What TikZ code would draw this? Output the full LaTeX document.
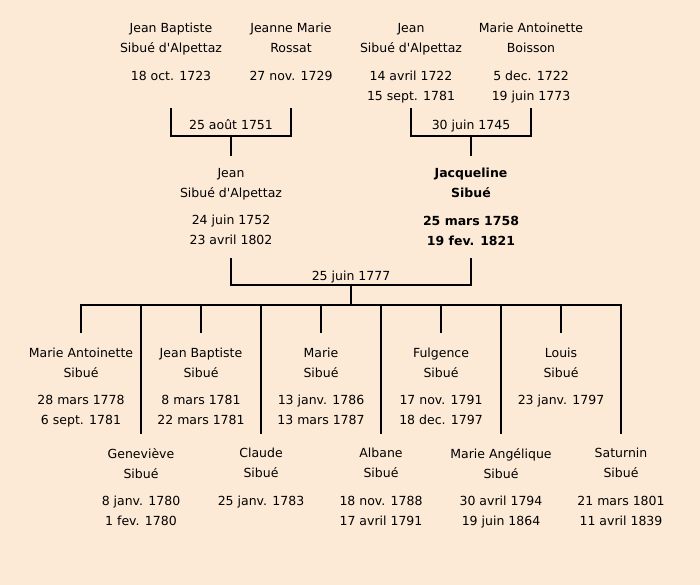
\documentclass[tikz,border=0pt]{standalone}
\usepackage{fontspec}
\setmainfont{DejaVu Sans}
\definecolor{peach}{RGB}{252,234,214}
\newcommand{\ap}{\textquotesingle}
\begin{document}
\begin{tikzpicture}[x=1pt,y=-1pt,font=\fontsize{12.5}{20}\selectfont, line join=miter,
	person/.style={align=center,inner sep=0pt,anchor=north},
	wed/.style={inner sep=0pt,anchor=base},
	link/.style={line width=2.4pt}]
	\fill[peach] (0,0) rectangle (700,585);
	\useasboundingbox (0,0) rectangle (700,585);
	% grands-parents
	\node[person] (jbs) at (171,23.3) {Jean Baptiste\\Sibué d\ap Alpettaz\\[7.5pt]18 oct. 1723};
	\node[person] (jmr) at (291,23.3) {Jeanne Marie\\Rossat\\[7.5pt]27 nov. 1729};
	\node[person] (js) at (411,23.3) {Jean\\Sibué d\ap Alpettaz\\[7.5pt]14 avril 1722\\15 sept. 1781};
	\node[person] (mab) at (531,23.3) {Marie Antoinette\\Boisson\\[7.5pt]5 dec. 1722\\19 juin 1773};
	% parents
	\node[person] (jean) at (231,168) {Jean\\Sibué d\ap Alpettaz\\[7.5pt]24 juin 1752\\23 avril 1802};
	\node[person,font={\fontsize{12.5}{20}\selectfont\bfseries}] (jacq) at (471,168) {Jacqueline\\Sibué\\[7.5pt]25 mars 1758\\19 fev. 1821};
	% enfants
	\node[person] (c1) at (81,347.5) {Marie Antoinette\\Sibué\\[7.5pt]28 mars 1778\\6 sept. 1781};
	\node[person] (c2) at (141,448) {Geneviève\\Sibué\\[7.5pt]8 janv. 1780\\1 fev. 1780};
	\node[person] (c3) at (201,347.5) {Jean Baptiste\\Sibué\\[7.5pt]8 mars 1781\\22 mars 1781};
	\node[person] (c4) at (261,448) {Claude\\Sibué\\[7.5pt]25 janv. 1783};
	\node[person] (c5) at (321,347.5) {Marie\\Sibué\\[7.5pt]13 janv. 1786\\13 mars 1787};
	\node[person] (c6) at (381,448) {Albane\\Sibué\\[7.5pt]18 nov. 1788\\17 avril 1791};
	\node[person] (c7) at (441,347.5) {Fulgence\\Sibué\\[7.5pt]17 nov. 1791\\18 dec. 1797};
	\node[person] (c8) at (501,448) {Marie Angélique\\Sibué\\[7.5pt]30 avril 1794\\19 juin 1864};
	\node[person] (c9) at (561,347.5) {Louis\\Sibué\\[7.5pt]23 janv. 1797};
	\node[person] (c10) at (621,448) {Saturnin\\Sibué\\[7.5pt]21 mars 1801\\11 avril 1839};
	% mariages
	\coordinate (w1) at (231,136);
	\coordinate (w2) at (471,136);
	\coordinate (w3) at (351,285);
	\coordinate (bar) at (351,305);
	\node[wed] (d1) at (231,130) {25 août 1751};
	\node[wed] (d2) at (471,130) {30 juin 1745};
	\node[wed] (d3) at (351,280) {25 juin 1777};
	\draw[link] (jbs |- 0,108) -- (jbs |- w1) -- (jmr |- w1) -- (jmr |- 0,108);
	\draw[link] (js |- 0,108) -- (js |- w2) -- (mab |- w2) -- (mab |- 0,108);
	\draw[link] (w1) -- ([yshift=12pt]jean.north);
	\draw[link] (w2) -- ([yshift=12pt]jacq.north);
	\draw[link] (jean |- 0,258) -- (jean |- w3) -- (jacq |- w3) -- (jacq |- 0,258);
	\draw[link] (w3) -- (bar);
	\draw[link] ([yshift=14.5pt]c1.north) -- (c1 |- bar) -- (c10 |- bar) -- ([yshift=14.5pt]c10.north);
	\foreach \c in {c2,c3,c4,c5,c6,c7,c8,c9}{
		\draw[link] (\c |- bar) -- ([yshift=14.5pt]\c.north);}
\end{tikzpicture}
\end{document}
